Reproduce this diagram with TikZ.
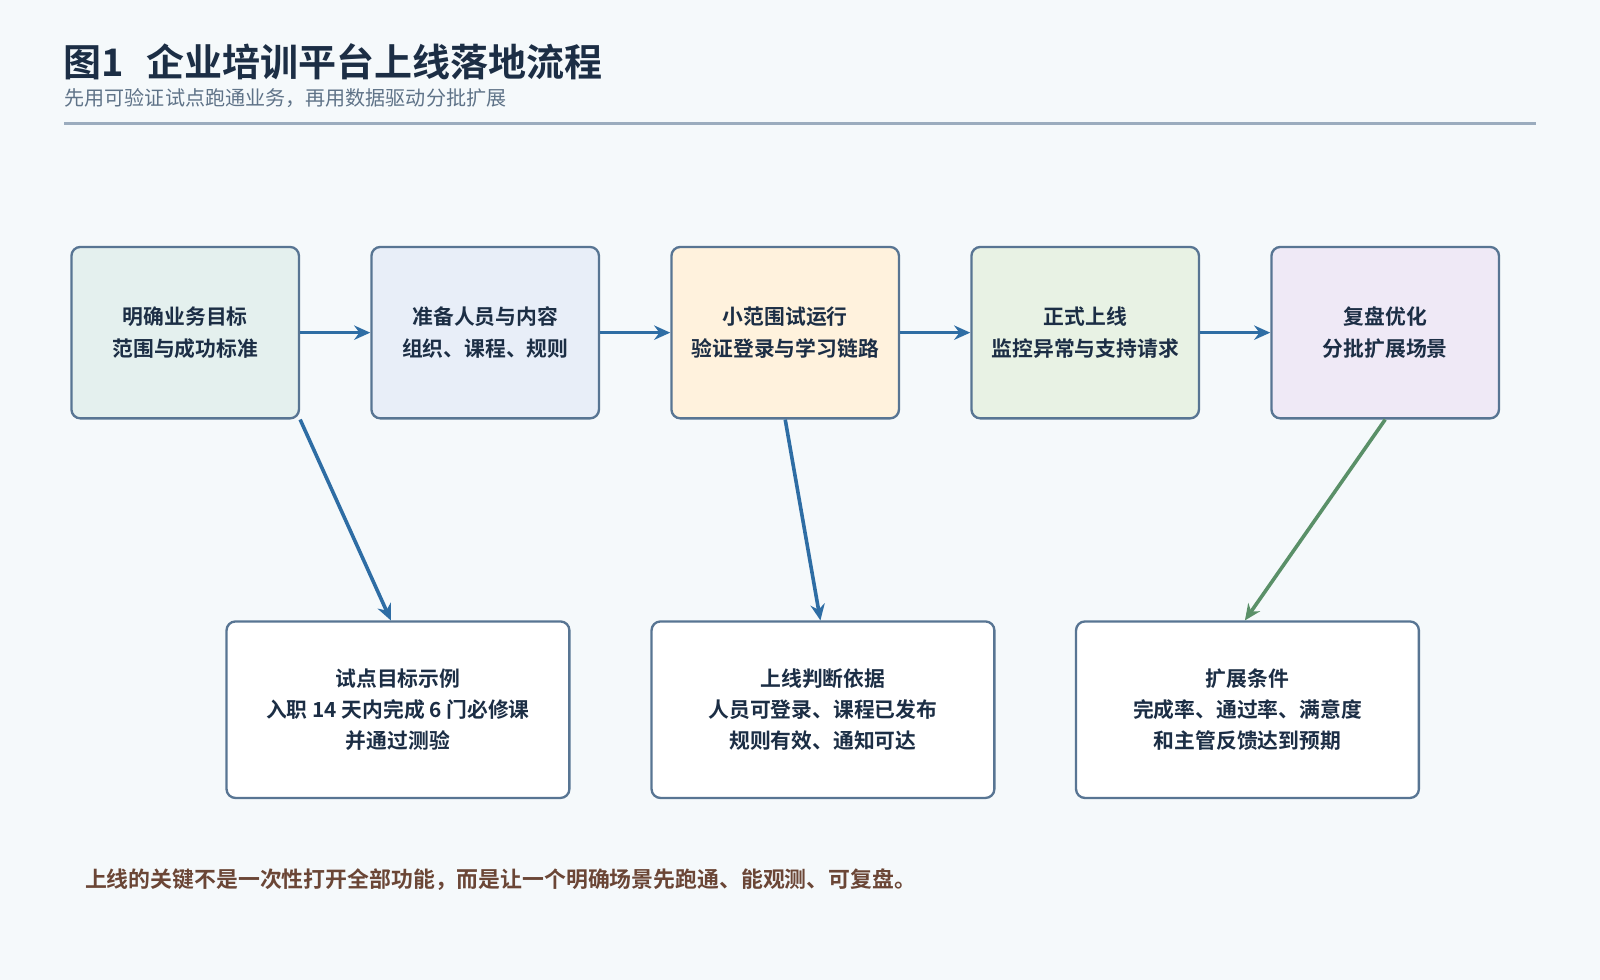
\documentclass[tikz,border=0pt]{standalone}
\usepackage{fontspec}
\setmainfont{Noto Sans CJK SC}
\newfontfamily\cjkb{Noto Sans CJK SC Bold}
\usetikzlibrary{arrows.meta}
\definecolor{bg}{HTML}{F5F9FB}
\definecolor{ttl}{HTML}{1C2E45}
\definecolor{sub}{HTML}{5F7388}
\definecolor{bd}{HTML}{587593}
\definecolor{arr}{HTML}{2E6DA4}
\definecolor{grn}{HTML}{5A9068}
\definecolor{note}{HTML}{6B4636}
\begin{document}
\begin{tikzpicture}[x=0.02cm,y=-0.02cm,
 box/.style={draw=bd,line width=1.3pt,rounded corners=5pt,minimum width=223*0.02cm,minimum height=168*0.02cm,align=center,font=\cjkb\fontsize{11.6}{17.5}\selectfont,text=ttl},
 wbox/.style={box,fill=white,minimum width=336*0.02cm,minimum height=173*0.02cm},
 ar/.style={draw=arr,line width=2pt,-{Stealth[length=9pt,width=8pt]}}]
\fill[bg] (0,0) rectangle (1568,960);
\node[anchor=west,inner sep=0,text=ttl,font=\cjkb\fontsize{21.2}{24}\selectfont] (t) at (62,61) {图1\hspace{0.6em}企业培训平台上线落地流程};
\node[anchor=west,inner sep=0,text=sub,font=\fontsize{11.2}{13}\selectfont] (s) at (63,96) {先用可验证试点跑通业务，再用数据驱动分批扩展};
\draw[color=bd!60,line width=1.2pt] (63,121) -- (1505,121);
\node[box,fill={rgb,255:red,228;green,240;blue,238}] (a) at (181.5,326) {明确业务目标\\范围与成功标准};
\node[box,fill={rgb,255:red,232;green,238;blue,248}] (b) at (475.5,326) {准备人员与内容\\组织、课程、规则};
\node[box,fill={rgb,255:red,255;green,242;blue,221}] (c) at (769.5,326) {小范围试运行\\验证登录与学习链路};
\node[box,fill={rgb,255:red,232;green,242;blue,228}] (d) at (1063.5,326) {正式上线\\监控异常与支持请求};
\node[box,fill={rgb,255:red,239;green,233;blue,246}] (e) at (1357.5,326) {复盘优化\\分批扩展场景};
\node[wbox] (p) at (390,695.5) {试点目标示例\\入职 14 天内完成 6 门必修课\\并通过测验};
\node[wbox] (q) at (806.5,695.5) {上线判断依据\\人员可登录、课程已发布\\规则有效、通知可达};
\node[wbox] (r) at (1222.5,695.5) {扩展条件\\完成率、通过率、满意度\\和主管反馈达到预期};
\draw[ar] (a) -- (b); \draw[ar] (b) -- (c); \draw[ar] (c) -- (d); \draw[ar] (d) -- (e);
\draw[ar] (a.south east) -- (383,608);
\draw[ar] (c.south) -- (804,608);
\draw[ar,draw=grn] (e.south) -- (1220,608);
\node[anchor=west,inner sep=0,text=note,font=\cjkb\fontsize{12.2}{14}\selectfont] (n) at (83,862) {上线的关键不是一次性打开全部功能，而是让一个明确场景先跑通、能观测、可复盘。};
\end{tikzpicture}
\end{document}
